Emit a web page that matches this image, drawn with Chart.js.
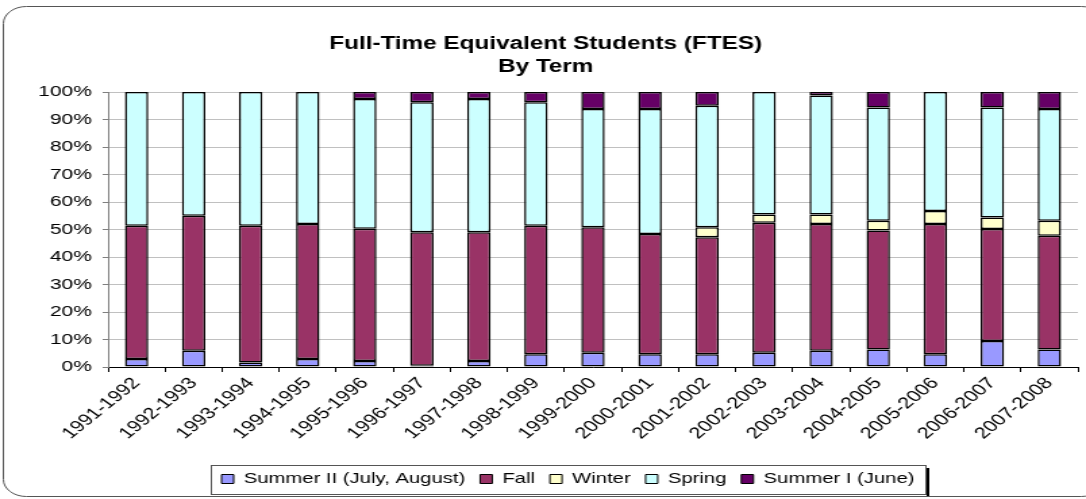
<!DOCTYPE html>
<html>
<head>
<meta charset="utf-8">
<script src="https://cdn.jsdelivr.net/npm/chart.js@4.4.1/dist/chart.umd.min.js"></script>
<style>
html,body{margin:0;padding:0;background:#fff;overflow:hidden;}
#wrap{position:relative;width:1086px;height:499px;overflow:hidden;}
#c{display:block;width:1086px;height:499px;}
</style>
</head>
<body>
<div id="wrap"><canvas id="c" width="804" height="499" style="width:1086px;height:499px"></canvas></div>
<script>
const titleLines = ['Full-Time Equivalent Students (FTES)', 'By Term'];
const categories = ['1991-1992','1992-1993','1993-1994','1994-1995','1995-1996','1996-1997','1997-1998','1998-1999','1999-2000','2000-2001','2001-2002','2002-2003','2003-2004','2004-2005','2005-2006','2006-2007','2007-2008'];
const seriesNames = ['Summer II (July, August)','Fall','Winter','Spring','Summer I (June)'];
const summerII = [2.9,5.9,1.6,2.9,2.2,0.5,2.2,4.6,5.2,4.6,4.6,5.2,5.9,6.4,4.6,9.5,6.4];
const fall     = [48.5,49.1,49.8,49.1,48.1,48.5,46.8,46.8,45.6,43.8,42.6,47.3,46.1,43.2,47.4,40.7,41.3];
const winter   = [0,0,0,0,0,0,0,0,0,0,3.6,3.0,3.5,3.6,4.7,4.2,5.5];
const spring   = [48.6,45.0,48.6,48.0,47.2,47.3,48.5,44.9,43.0,45.4,44.2,44.5,43.2,41.2,43.3,40.0,40.6];
const summerI  = [0,0,0,0,2.5,3.7,2.5,3.7,6.2,6.2,5.0,0,1.3,5.6,0,5.6,6.2];
const yTicks   = [0,10,20,30,40,50,60,70,80,90,100];

const colors = ['#9999FF','#993366','#FFFFCC','#CCFFFF','#660066'];
const values = [summerII, fall, winter, spring, summerI];

const FONT = "'Liberation Sans', Arial, sans-serif";

const framePlugin = {
  id: 'frame',
  afterLayout(chart) {
    const lg = chart.legend;
    if (lg) { lg.left += 21.5; lg.right += 21.5; }
  },
  beforeDraw(chart) {
    const ctx = chart.ctx;
    ctx.save();
    ctx.fillStyle = '#fff';
    ctx.fillRect(0,0,chart.width,chart.height);
    ctx.strokeStyle = '#555';
    ctx.lineWidth = 1;
    ctx.beginPath();
    ctx.roundRect(2.5, 6.5, 815, 490, 17);
    ctx.stroke();
    ctx.restore();
  },
  afterDraw(chart) {
    const ctx = chart.ctx;
    ctx.save();
    ctx.fillStyle = '#000';
    ctx.font = 'bold 18px ' + FONT;
    ctx.textAlign = 'center';
    ctx.textBaseline = 'middle';
    ctx.fillText(titleLines[0], 404, 44);
    ctx.fillText(titleLines[1], 404, 67);
    const lg = chart.legend;
    if (lg && lg.legendHitBoxes && lg.legendHitBoxes.length) {
      const hb = lg.legendHitBoxes;
      const l = Math.min(...hb.map(h=>h.left)) - 8;
      const r = Math.max(...hb.map(h=>h.left + h.width)) + 8;
      const t = Math.min(...hb.map(h=>h.top)) - 7;
      const b = Math.max(...hb.map(h=>h.top + h.height)) + 7;
      ctx.strokeStyle = '#555';
      ctx.lineWidth = 1;
      ctx.strokeRect(Math.round(l)+0.5, Math.round(t)+0.5, Math.round(r-l), Math.round(b-t));
      ctx.fillStyle = '#000';
      ctx.fillRect(Math.round(r)+1, Math.round(t)+3, 2, Math.round(b-t)-1);
    }
    ctx.restore();
  }
};

new Chart(document.getElementById('c'), {
  type: 'bar',
  data: {
    labels: categories,
    datasets: seriesNames.map((n,i)=>({
      label: n,
      data: values[i],
      backgroundColor: colors[i],
      borderColor: '#000',
      borderWidth: 1.5,
      borderSkipped: false,
      barPercentage: 0.41,
      categoryPercentage: 1.0
    }))
  },
  options: {
    responsive: false,
    maintainAspectRatio: false,
    animation: false,
    devicePixelRatio: 1,
    layout: { padding: { left: 0, right: 6, top: 92, bottom: 2.5 } },
    plugins: {
      title: { display: false },
      tooltip: { enabled: false },
      legend: {
        position: 'bottom',
        labels: {
          boxWidth: 9, boxHeight: 9, padding: 11,
          color: '#000',
          font: { family: FONT, size: 15 },
          generateLabels(chart) {
            return chart.data.datasets.map((d,i)=>({
              text: d.label, fillStyle: d.backgroundColor, strokeStyle: '#000',
              lineWidth: 1, hidden: false, datasetIndex: i, fontColor: '#000'
            }));
          }
        }
      }
    },
    scales: {
      x: {
        stacked: true,
        offset: true,
        grid: { display: true, offset: true, drawOnChartArea: false, drawTicks: true, tickLength: 5, color: '#000' },
        border: { color: '#000', width: 1 },
        ticks: { color: '#000', font: { family: FONT, size: 16 }, minRotation: 47, maxRotation: 47, autoSkip: false, padding: 2 },
        afterFit(s) { s.height = 93.5; }
      },
      y: {
        stacked: true,
        min: 0, max: 100,
        afterBuildTicks(s) { s.ticks = yTicks.map(v=>({value:v})); },
        grid: { color: '#c0c0c0', tickColor: '#808080', tickLength: 4, drawTicks: true },
        border: { color: '#808080', width: 1 },
        ticks: { color: '#000', font: { family: FONT, size: 15.5 }, padding: 8, callback: v => v + '%' },
        afterFit(s) { s.width = 80; }
      }
    }
  },
  plugins: [framePlugin]
});
</script>
</body>
</html>
